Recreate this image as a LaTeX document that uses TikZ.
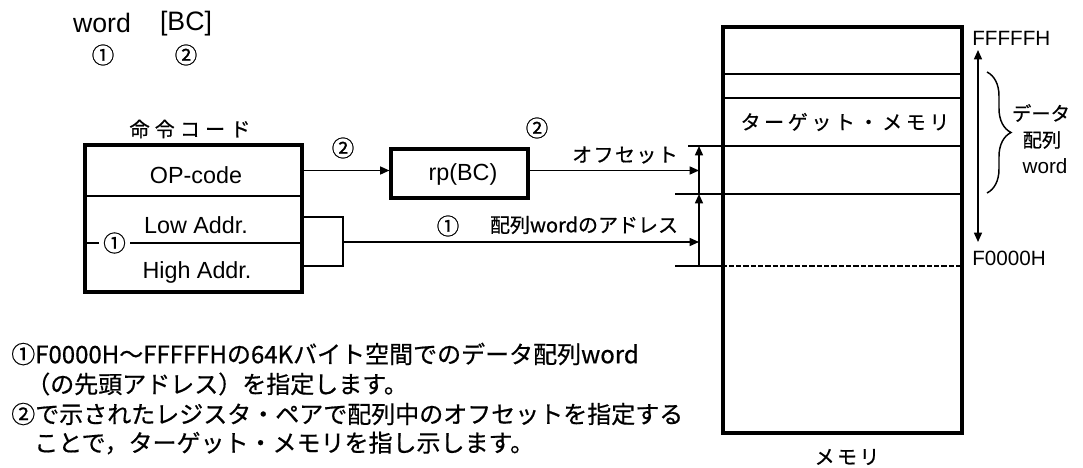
\documentclass[tikz,border=0pt]{standalone}
\usepackage{fontspec}
\setmainfont{Liberation Sans}
\newfontfamily\jp{Noto Sans CJK JP}[FakeBold=0.6]
\newfontfamily\jpw{Noto Sans CJK JP}[LetterSpace=18,FakeBold=0.6]
\usetikzlibrary{arrows.meta,decorations.pathreplacing}
\begin{document}
\begin{tikzpicture}[x=0.75pt,y=-0.75pt,
  ln/.style={line width=1.1pt},
  boxline/.style={draw,line width=2.3pt,rectangle,inner sep=0pt},
  arr/.style={ln,-{Triangle[length=7pt,width=6pt]}},
  dblarr/.style={ln,{Triangle[length=7pt,width=6pt]}-{Triangle[length=7pt,width=6pt]}},
  big/.style={inner sep=0pt,font=\fontsize{20}{22}\selectfont},
  lat/.style={inner sep=0pt,font=\fontsize{17.5}{20}\selectfont},
  addr/.style={inner sep=0pt,font=\fontsize{15.5}{18}\selectfont},
  circ/.style={inner sep=0pt,font=\jp\fontsize{17}{19}\selectfont},
  jlbl/.style={inner sep=0pt,font=\jpw\fontsize{15}{17}\selectfont},
  jsm/.style={inner sep=0pt,font=\jp\fontsize{15}{17}\selectfont},
  jtxt/.style={inner sep=0pt,anchor=west,font=\jp\fontsize{18}{20}\selectfont}
]
\fill[white] (0,0) rectangle (1083,468);
\useasboundingbox (0,0) rectangle (1083,468);

% top legend
\node[big] (w) at (102,22.5) {word};
\node[big] (bc) at (186,23.5) {[BC]};
\node[circ] (c1top) at (103,55) {①};
\node[circ] (c2top) at (186,55) {②};

% instruction code box
\node[jlbl,font=\jp\fontsize{15}{17}\selectfont\addfontfeature{LetterSpace=26}] (title) at (190,129) {命令コード};
\node[boxline,minimum width=162.75pt,minimum height=110.25pt] (instr) at (193.5,218.5) {};
\draw[line width=1.8pt] (85,196) -- (302,196);
\node[lat] (op) at (196,175) {OP-code};
\node[lat] (lo) at (196,225) {Low Addr.};
\node[lat] (hi) at (197,272) {High Addr.};
\node[circ,inner sep=3pt] (c1l) at (114.5,243) {①};
\draw[line width=1.4pt] (instr.west |- c1l) -- (c1l.west);
\draw[line width=1.4pt] (c1l.east) -- (instr.east |- c1l);

% register pair box
\node[boxline,minimum width=102.75pt,minimum height=36.75pt] (rp) at (459.5,173.5) {};
\node[lat] (rpt) at (463,174) {rp(BC)};

% memory
\node[boxline,minimum width=179.25pt,minimum height=304.5pt] (mem) at (842.5,230) {};
\coordinate (opy) at (0,170.5);
\coordinate (ady) at (0,242);
\coordinate (t0) at (699,266);
\coordinate (t1) at (699,194);
\coordinate (t2) at (699,146);
\draw[ln] (mem.west |- 0,74) -- (mem.east |- 0,74);
\draw[ln] (mem.west |- 0,98) -- (mem.east |- 0,98);
\draw[ln] (688,146) -- (mem.east |- t2);
\draw[ln] (675,194) -- (mem.east |- t1);
\draw[ln] (675,266) -- (mem.west |- t0);
\draw[ln,dash pattern=on 4pt off 1.5pt] (mem.west |- t0) -- (mem.east |- t0);
\node[jlbl] (tgt) at (845,122) {ターゲット・メモリ};
\node[jlbl,font=\jp\fontsize{15}{17}\selectfont\addfontfeature{LetterSpace=12}] (memlbl) at (847,457) {メモリ};

% connectors
\draw[arr] (instr.east |- opy) -- (rp.west |- opy);
\node[circ] (c2a) at (343,148) {②};
\node[circ] (c2b) at (537,128) {②};
\draw[arr] (rp.east |- opy) -- (t2 |- opy);
\node[jsm,font=\jp\fontsize{15}{17}\selectfont\addfontfeature{LetterSpace=7}] (ofs) at (625,155) {オフセット};
\coordinate (br1) at (343,217);
\coordinate (br2) at (343,266);
\draw[ln] (instr.east |- br1) -- (br1) -- (br2) -- (instr.east |- br2);
\draw[arr] (br1 |- ady) -- (t0 |- ady);
\node[circ] (c1a) at (448,226) {①};
\node[jsm] (adl) at (584,225) {配列wordのアドレス};
\draw[arr] (t0) -- (t1);
\draw[arr] (t1) -- (t2);

% address range
\node[addr,anchor=west] (ff) at (972,38) {FFFFFH};
\node[addr,anchor=west] (f0) at (972,258) {F0000H};
\coordinate (ra1) at (978,50);
\coordinate (ra2) at (978,242);
\draw[dblarr] (ra1) -- (ra2);
\draw[ln,decorate,decoration={brace,amplitude=18pt}] (987,72) -- (987,193);
\node[jsm,font=\jp\fontsize{14.5}{16}\selectfont] (d1) at (1041,113) {データ};
\node[jsm,font=\jp\fontsize{14.5}{16}\selectfont] (d2) at (1042,140) {配列};
\node[addr] (d3) at (1045,166) {word};

% explanation
\node[jtxt] (e1) at (11,354) {①F0000H～FFFFFHの64Kバイト空間でのデータ配列word};
\node[jtxt] (e2) at (26,384) {（の先頭アドレス）を指定します。};
\node[jtxt] (e3) at (11,414) {②で示されたレジスタ・ペアで配列中のオフセットを指定する};
\node[jtxt] (e4) at (34,443) {ことで，ターゲット・メモリを指し示します。};
\end{tikzpicture}
\end{document}
